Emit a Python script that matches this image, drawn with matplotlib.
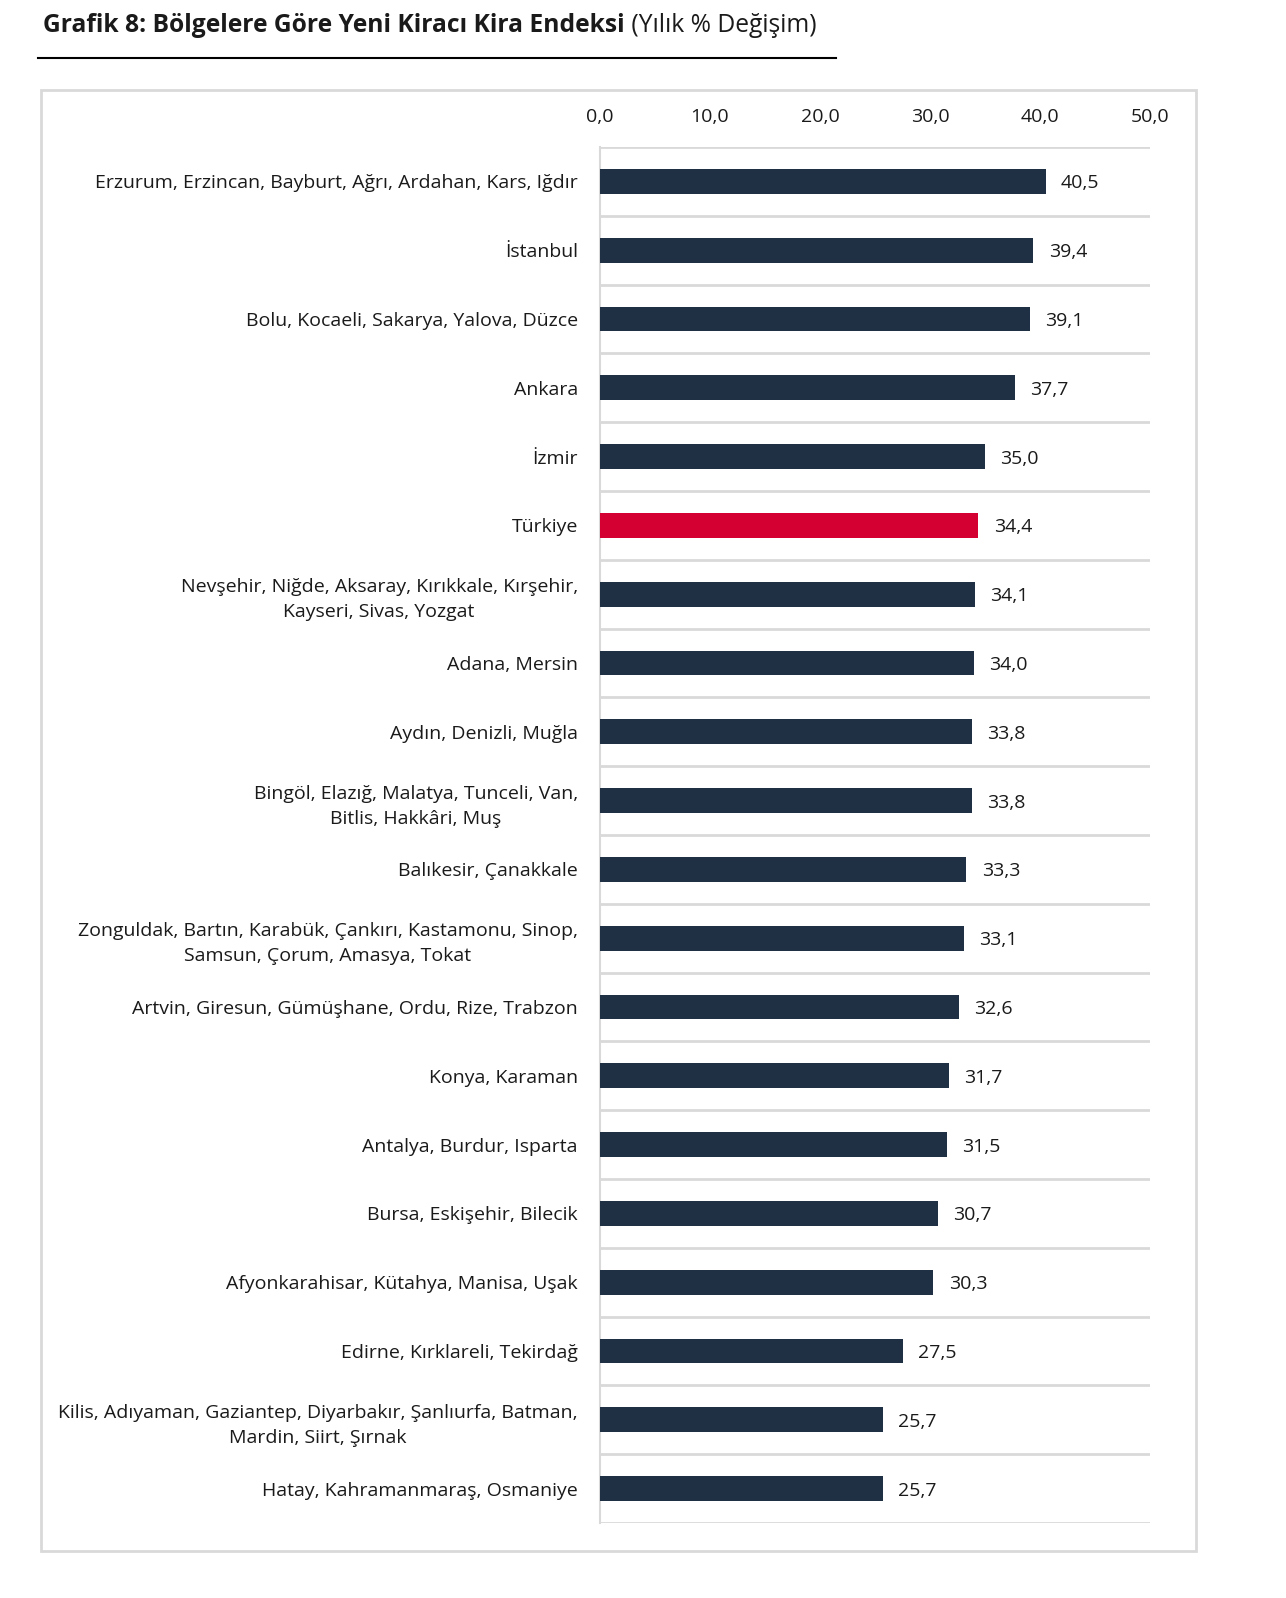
import matplotlib
matplotlib.use('Agg')

import matplotlib.pyplot as plt
import matplotlib.patches as patches
import numpy as np

plt.rcParams['font.family'] = ['Open Sans', 'DejaVu Sans']

regions = [
    "Erzurum, Erzincan, Bayburt, Ağrı, Ardahan, Kars, Iğdır",
    "İstanbul",
    "Bolu, Kocaeli, Sakarya, Yalova, Düzce",
    "Ankara",
    "İzmir",
    "Türkiye",
    "Nevşehir, Niğde, Aksaray, Kırıkkale, Kırşehir,\nKayseri, Sivas, Yozgat",
    "Adana, Mersin",
    "Aydın, Denizli, Muğla",
    "Bingöl, Elazığ, Malatya, Tunceli, Van,\nBitlis, Hakkâri, Muş",
    "Balıkesir, Çanakkale",
    "Zonguldak, Bartın, Karabük, Çankırı, Kastamonu, Sinop,\nSamsun, Çorum, Amasya, Tokat",
    "Artvin, Giresun, Gümüşhane, Ordu, Rize, Trabzon",
    "Konya, Karaman",
    "Antalya, Burdur, Isparta",
    "Bursa, Eskişehir, Bilecik",
    "Afyonkarahisar, Kütahya, Manisa, Uşak",
    "Edirne, Kırklareli, Tekirdağ",
    "Kilis, Adıyaman, Gaziantep, Diyarbakır, Şanlıurfa, Batman,\nMardin, Siirt, Şırnak",
    "Hatay, Kahramanmaraş, Osmaniye",
]
values = [40.5, 39.4, 39.1, 37.7, 35.0, 34.4, 34.1, 34.0, 33.8, 33.8,
          33.3, 33.1, 32.6, 31.7, 31.5, 30.7, 30.3, 27.5, 25.7, 25.7]
xticks = [0, 10, 20, 30, 40, 50]

navy = "#1f3045"
red = "#d50032"
grid_c = "#d9d9d9"
txt_c = "#1a1a1a"
fs = 14

W, H = 1286, 1598
fig = plt.figure(figsize=(W / 100, H / 100), dpi=100)
ax = fig.add_axes([600 / W, 1 - 1523 / H, 550 / W, (1523 - 147) / H])

y = np.arange(len(regions))
colors = [red if r == "Türkiye" else navy for r in regions]
ax.barh(y, values, height=0.36, color=colors, zorder=3)

for yi, v in zip(y, values):
    ax.annotate(("%.1f" % v).replace(".", ","), (v, yi), xytext=(11, 0),
                textcoords="offset points", va="center_baseline", ha="left",
                fontsize=fs, color=txt_c)

ax.set_xlim(0, 50)
ax.set_ylim(len(regions) - 0.5, -0.5)

ax.xaxis.tick_top()
ax.set_xticks(xticks)
ax.set_xticklabels([("%.1f" % t).replace(".", ",") for t in xticks])
ax.tick_params(axis="x", length=0, pad=15, labelsize=fs, labelcolor=txt_c)

ax.set_yticks(y)
ax.set_yticklabels(regions)
ax.tick_params(axis="y", length=0, pad=16, labelsize=fs, labelcolor=txt_c)
for lab in ax.get_yticklabels():
    lab.set_multialignment("center")
    lab.set_linespacing(1.5)

ax.set_yticks(np.arange(-0.5, len(regions)), minor=True)
ax.tick_params(axis="y", which="minor", length=0)
ax.grid(axis="y", which="minor", color=grid_c, linewidth=2, zorder=0)
ax.grid(axis="x", visible=False)

for s in ["top", "right", "bottom"]:
    ax.spines[s].set_visible(False)
ax.spines["left"].set_color(grid_c)
ax.spines["left"].set_linewidth(1.5)

# outer frame
fig.patches.append(patches.Rectangle(
    (41 / W, 1 - 1551 / H), (1196 - 41) / W, (1551 - 90) / H,
    transform=fig.transFigure, fill=False, edgecolor=grid_c, linewidth=2))

# title + rule
t1 = fig.text(43 / W, 1 - 26 / H, "Grafik 8: Bölgelere Göre Yeni Kiracı Kira Endeksi",
              fontsize=17.7, fontweight="bold", color=txt_c, va="center", ha="left")
ax.annotate(" (Yılık % Değişim)", xy=(1, 0.5), xycoords=t1, va="center", ha="left",
            fontsize=17.7, color=txt_c, annotation_clip=False)
fig.add_artist(plt.Line2D([38 / W, 836 / W], [1 - 58 / H, 1 - 58 / H],
                          transform=fig.transFigure, color="black", linewidth=1.5))

plt.savefig("out.png", dpi=100)
